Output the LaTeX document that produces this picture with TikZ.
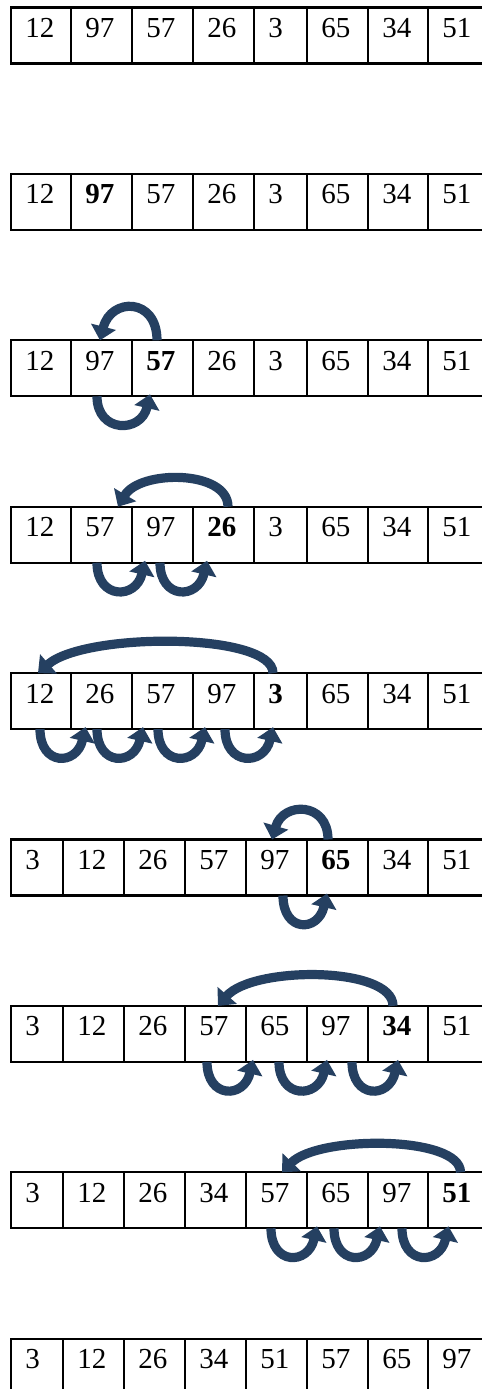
\documentclass[tikz,border=0pt]{standalone}
\usepackage{fontspec}
\setmainfont{Liberation Serif}
\usetikzlibrary{arrows.meta,calc}
\definecolor{arrowblue}{HTML}{254061}

\begin{document}
\begin{tikzpicture}[x=0.5pt,y=-0.5pt,
    cell/.style={draw,line width=1.1pt,inner sep=0pt,outer sep=0pt,minimum height=28pt},
    num/.style={anchor=base west,inner sep=0pt,font=\fontsize{14.5}{16}\selectfont},
    swap/.style={draw=arrowblue,line width=4.6pt,-{Triangle[width=12.5pt,length=7pt]}},
    jump/.style={swap}]
  \useasboundingbox (0,0) rectangle (482,1389);
  % --- righe dell'array ---
  \foreach \row/\vals in {%
      1/{12,97,57,26,3,65,34,51}, 2/{12,97,57,26,3,65,34,51},
      3/{12,97,57,26,3,65,34,51}, 4/{12,57,97,26,3,65,34,51},
      5/{12,26,57,97,3,65,34,51}, 6/{3,12,26,57,97,65,34,51},
      7/{3,12,26,57,65,97,34,51}, 8/{3,12,26,34,57,65,97,51},
      9/{3,12,26,34,51,57,65,97}}{
    \ifnum\row<6 \def\cols{{11,71,132,193,254,307,368,428,484}}%
    \else \def\cols{{11,63,124,185,246,307,368,428,484}}\fi
    \pgfmathsetmacro\ytop{7.5+(\row-1)*166.4}
    \foreach \val [count=\col] in \vals {
      \pgfmathsetmacro\xl{\cols[\col-1]}
      \pgfmathsetmacro\xr{\cols[\col]}
      \node[cell,minimum width={(\xr-\xl)*0.5pt}] (c\row-\col) at ({(\xl+\xr)/2},\ytop+28) {};
      \node[num] (n\row-\col) at (\xl+14,\ytop+30)
        {\ifnum\row>1 \ifnum\col=\row \bfseries\fi\fi\val};
    }
  }
  % --- scambi (sotto) ---
  \foreach \row/\col/\s/\t in {3/2/-4.5/-12.5, 4/2/-4.5/-17.5, 4/3/-2.5/-16.5,
      5/1/-1/-16, 5/2/-4.5/-19.5, 5/3/-4.5/-18.5, 5/4/1.5/-7.5, 6/5/6.5/-10.5,
      7/4/-8.5/-23.5, 7/5/2.5/-10.5, 7/6/14.5/0,
      8/5/-5.5/-20.5, 8/6/-3.5/-18, 8/7/4/-7.5}{
    \pgfmathtruncatemacro\nxt{\col+1}
    \draw[swap] ($(c\row-\col.south)+(\s,0)$) .. controls +(0,37) and +(-9,39)
      .. ($(c\row-\nxt.south)+(\t,-2)$);
  }
  % --- inserimenti (sopra) ---
  \draw[jump] ($(c3-3.north)+(-5.5,0)$) .. controls +(0,-43) and +(11,-43) .. ($(c3-2.north)+(-1.5,0)$);
  \draw[jump] ($(c4-4.north)+(4.5,0)$) .. controls +(0,-37) and +(22,-37) .. ($(c4-2.north)+(16.5,0)$);
  \draw[jump] ($(c5-5.north)+(-7.5,0)$) .. controls +(0,-41) and +(47,-41) .. ($(c5-1.north)+(-3,0)$);
  \draw[jump] ($(c6-6.north)+(-9.5,0)$) .. controls +(0,-38) and +(11,-38) .. ($(c6-5.north)+(-4.5,0)$);
  \draw[jump] ($(c7-7.north)+(-5,0)$) .. controls +(0,-40) and +(35,-40) .. ($(c7-4.north)+(2.5,0)$);
  \draw[jump] ($(c8-8.north)+(4.5,0)$) .. controls +(0,-37) and +(36,-37) .. ($(c8-5.north)+(5.5,0)$);
\end{tikzpicture}
\end{document}
